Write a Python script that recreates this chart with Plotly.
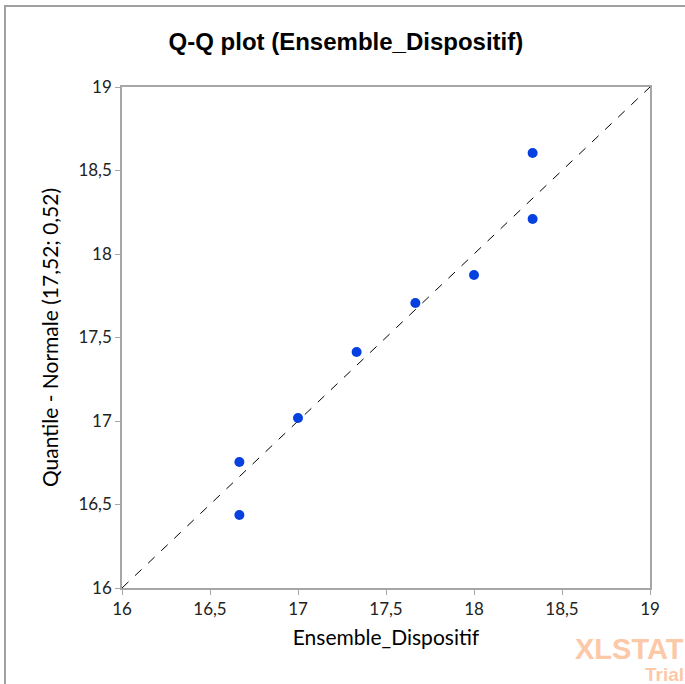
import plotly.graph_objects as go

x_vals = [16.667, 16.667, 17.0, 17.333, 17.667, 18.0, 18.333, 18.333]
y_vals = [16.437, 16.754, 17.018, 17.413, 17.707, 17.874, 18.21, 18.605]
diag = [16, 19]

title = "Q-Q plot (Ensemble_Dispositif)"
x_title = "Ensemble_Dispositif"
y_title = "Quantile - Normale (17,52; 0,52)"

fig = go.Figure()
fig.add_trace(go.Scatter(x=diag, y=diag, mode="lines",
                         line=dict(color="black", width=1, dash="dash"),
                         hoverinfo="skip", showlegend=False))
fig.add_trace(go.Scatter(x=x_vals, y=y_vals, mode="markers",
                         marker=dict(color="#0740e0", size=10),
                         showlegend=False))

axis_common = dict(range=[16, 19], dtick=0.5, tick0=16, showgrid=False, zeroline=False,
                   showline=True, linecolor="#a6a6a6", linewidth=1.5, mirror=True,
                   ticks="outside", ticklen=5, tickcolor="#a6a6a6",
                   tickfont=dict(family="Lato", size=17, color="#222"))

fig.update_layout(
    width=685, height=684,
    margin=dict(l=122, r=35, t=87, b=96),
    paper_bgcolor="white", plot_bgcolor="white",
    separators=", ",
    title=dict(text="<b>" + title + "</b>", x=0.505, xanchor="center", y=0.939, yanchor="middle",
               font=dict(family="Liberation Sans", size=24, color="black")),
    xaxis=dict(**axis_common, title=dict(text=x_title, standoff=12,
               font=dict(family="Lato", size=21, color="black"))),
    yaxis=dict(**axis_common, title=dict(text=y_title, standoff=14,
               font=dict(family="Lato", size=21, color="black"))),
    shapes=[dict(type="rect", xref="paper", yref="paper",
                 x0=-0.2216, x1=1.25, y0=-0.4, y1=1.1617,
                 line=dict(color="#a0a0a0", width=2), layer="below")],
    annotations=[
        dict(text="<b>XLSTAT</b>", xref="paper", yref="paper", x=1.068, y=-0.121,
             xanchor="right", yanchor="middle", showarrow=False,
             font=dict(family="Liberation Sans", size=29, color="#fcc9a8")),
        dict(text="<b>Trial</b>", xref="paper", yref="paper", x=1.068, y=-0.173,
             xanchor="right", yanchor="middle", showarrow=False,
             font=dict(family="Liberation Sans", size=19, color="#fcc9a8")),
    ],
)

fig.write_html("out.html", config={"displayModeBar": False},
               post_script="document.body.style.margin='0px';")
